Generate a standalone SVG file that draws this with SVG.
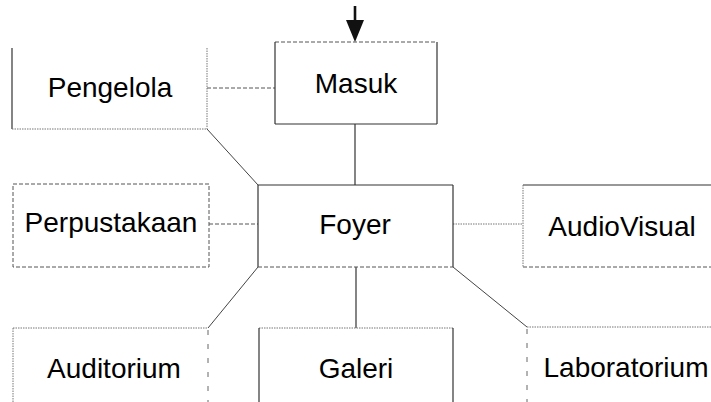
<svg xmlns="http://www.w3.org/2000/svg" width="711" height="402" viewBox="0 0 711 402">
  <style>
    .label { font-family: "Liberation Sans", Arial, sans-serif; font-size: 28px; fill: #000; text-anchor: middle; }
    .solid { stroke: #333; stroke-width: 1.2; fill: none; }
    .dash { stroke: #555; stroke-width: 1; stroke-dasharray: 4 2; fill: none; }
    .dot { stroke: #777; stroke-width: 1; stroke-dasharray: 1.5 1; fill: none; }
    .sparse { stroke: #666; stroke-width: 1; stroke-dasharray: 5 9; fill: none; }
    .link { stroke: #444; stroke-width: 1; fill: none; }
  </style>

  <rect width="711" height="402" fill="#fff"/>

  <!-- connectors between rooms -->
  <g id="connectors">
    <!-- entrance arrow -->
    <line x1="355" y1="6" x2="355" y2="21" stroke="#111" stroke-width="2.6"/>
    <path d="M346,20 L364,20 L355,42 Z" fill="#111"/>
    <line class="dash" x1="207" y1="88" x2="275" y2="88"/>
    <line class="solid" x1="355" y1="124" x2="355" y2="185"/>
    <line class="link" x1="207" y1="129" x2="258" y2="185"/>
    <line class="dash" x1="209" y1="224" x2="258" y2="224"/>
    <line class="dot" x1="453" y1="224" x2="523" y2="224"/>
    <line class="link" x1="258" y1="267" x2="208" y2="328"/>
    <line class="solid" x1="356" y1="267" x2="356" y2="328"/>
    <line class="link" x1="453" y1="267" x2="527" y2="327"/>
  </g>

  <g id="pengelola">
    <line class="solid" x1="12" y1="48" x2="12" y2="129"/>
    <line class="dot" x1="12" y1="129" x2="207" y2="129"/>
    <line class="dot" x1="207" y1="48" x2="207" y2="129"/>
    <text class="label" x="110" y="97">Pengelola</text>
  </g>

  <g id="masuk">
    <line class="dash" x1="275" y1="42" x2="437" y2="42"/>
    <line class="solid" x1="275" y1="42" x2="275" y2="124"/>
    <line class="solid" x1="437" y1="42" x2="437" y2="124"/>
    <line class="solid" x1="275" y1="124" x2="437" y2="124"/>
    <text class="label" x="356" y="93">Masuk</text>
  </g>

  <g id="perpustakaan">
    <rect class="dash" x="13" y="184" width="196" height="83"/>
    <text class="label" x="111" y="232">Perpustakaan</text>
  </g>

  <g id="foyer">
    <line class="solid" x1="258" y1="185" x2="453" y2="185"/>
    <line class="solid" x1="258" y1="185" x2="258" y2="267"/>
    <line class="solid" x1="453" y1="185" x2="453" y2="267"/>
    <line class="dash" x1="258" y1="267" x2="453" y2="267"/>
    <text class="label" x="355" y="234">Foyer</text>
  </g>

  <g id="audiovisual">
    <line class="solid" x1="523" y1="185" x2="711" y2="185"/>
    <line class="dot" x1="523" y1="185" x2="523" y2="267"/>
    <line class="dash" x1="523" y1="267" x2="711" y2="267"/>
    <text class="label" x="622" y="236">AudioVisual</text>
  </g>

  <g id="auditorium">
    <line class="dot" x1="13" y1="328" x2="208" y2="328"/>
    <line class="dot" x1="13" y1="328" x2="13" y2="402"/>
    <line class="sparse" x1="208" y1="330" x2="208" y2="402"/>
    <text class="label" x="114" y="378">Auditorium</text>
  </g>

  <g id="galeri">
    <line class="dot" x1="259" y1="328" x2="453" y2="328"/>
    <line class="solid" x1="259" y1="328" x2="259" y2="402"/>
    <line class="solid" x1="453" y1="328" x2="453" y2="402"/>
    <text class="label" x="356" y="378">Galeri</text>
  </g>

  <g id="laboratorium">
    <line class="dot" x1="527" y1="327" x2="711" y2="327"/>
    <line class="sparse" x1="527" y1="329" x2="527" y2="402"/>
    <text class="label" x="626" y="377">Laboratorium</text>
  </g>
</svg>
